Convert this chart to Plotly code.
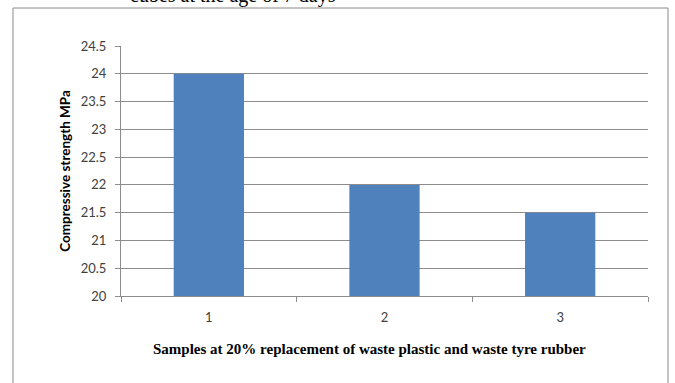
import plotly.graph_objects as go

# Compressive strength of samples
samples = ["1", "2", "3"]
strength_mpa = [24, 22, 21.5]
y_ticks = [20, 20.5, 21, 21.5, 22, 22.5, 23, 23.5, 24, 24.5]
y_tick_text = ["20", "20.5", "21", "21.5", "22", "22.5", "23", "23.5", "24", "24.5"]

title_text = "cubes at the age of 7 days"
x_title = "Samples at 20% replacement of waste plastic and waste tyre rubber"
y_title = "Compressive strength MPa"

W, H = 675, 383
L, R, T, B = 121, 27, 46, 87
pw, ph = W - L - R, H - T - B

def px_x(x):
    return (x - L) / pw

def px_y(y):
    return (H - B - y) / ph

grid_col = "#8c8c8c"
text_col = "#404040"
sans = "Lato, Open Sans, sans-serif"
serif = "Liberation Serif, Times New Roman, serif"

fig = go.Figure(
    go.Bar(
        x=samples,
        y=strength_mpa,
        marker=dict(color="#4F81BD", line=dict(width=0)),
        width=0.4,
    )
)

fig.update_layout(
    width=W,
    height=H,
    margin=dict(l=L, r=R, t=T, b=B),
    paper_bgcolor="white",
    plot_bgcolor="white",
    showlegend=False,
    xaxis=dict(
        type="category",
        showgrid=False,
        showline=True,
        linecolor=grid_col,
        linewidth=1,
        ticks="outside",
        tickson="boundaries",
        ticklen=5,
        tickcolor=grid_col,
        ticklabelstandoff=9,
        tickfont=dict(family=sans, size=13, color=text_col),
    ),
    yaxis=dict(
        range=[20, 24.5],
        tickvals=y_ticks,
        ticktext=y_tick_text,
        showgrid=True,
        gridcolor=grid_col,
        gridwidth=1,
        showline=True,
        linecolor=grid_col,
        linewidth=1,
        ticks="outside",
        ticklen=5,
        tickcolor=grid_col,
        ticklabelstandoff=6,
        zeroline=False,
        tickfont=dict(family=sans, size=13, color=text_col),
        title=dict(
            text="<b>" + y_title + "</b>",
            font=dict(family=sans, size=13.5, color="black"),
            standoff=6,
        ),
    ),
    shapes=[
        dict(
            type="rect",
            xref="paper", yref="paper",
            x0=px_x(13), x1=px_x(668),
            y0=px_y(395), y1=px_y(8),
            line=dict(color="#8a8a8a", width=1),
            fillcolor="rgba(0,0,0,0)",
            layer="below",
        )
    ],
    annotations=[
        dict(
            text=title_text,
            xref="paper", yref="paper",
            x=px_x(233), y=px_y(9),
            xanchor="center", yanchor="bottom",
            showarrow=False,
            font=dict(family=serif, size=20, color="black"),
        ),
        dict(
            text="<b>" + x_title + "</b>",
            xref="paper", yref="paper",
            x=px_x(369), y=px_y(349),
            xanchor="center", yanchor="middle",
            showarrow=False,
            font=dict(family=serif, size=15, color="black"),
        ),
    ],
)

fig.write_html("out.html")
